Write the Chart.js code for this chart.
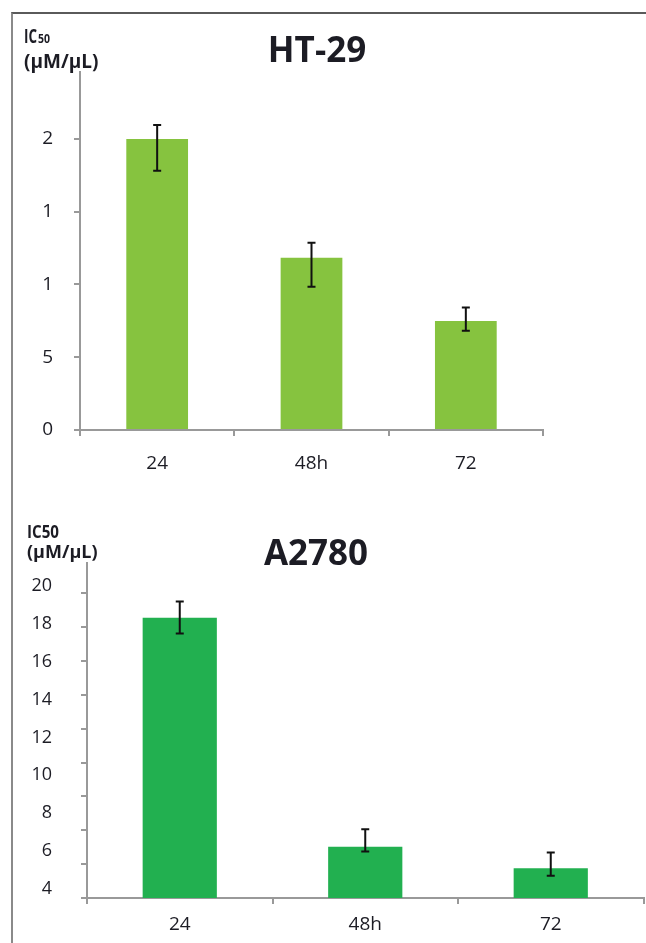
<!DOCTYPE html>
<html>
<head>
<meta charset="utf-8">
<script src="https://cdn.jsdelivr.net/npm/chart.js@4.4.1/dist/chart.umd.min.js"></script>
<style>
body{margin:0;background:#fff;width:646px;height:943px;overflow:hidden;position:relative;}
#frame{position:absolute;left:11px;top:12px;right:0;bottom:-5px;border-top:2px solid #5a5a5a;border-left:2px solid #8a8a8a;pointer-events:none;z-index:2;}
#htChart{position:absolute;left:0;top:0;}
#a2Chart{position:absolute;left:0;top:480px;}
</style>
</head>
<body>
<div id="frame"></div>
<canvas id="htChart" width="646" height="480"></canvas>
<canvas id="a2Chart" width="646" height="463"></canvas>
<script>
// HT-29
const htLabels = ['24', '48h', '72'];
const htValues = [20.0, 11.84, 7.49];
const htErrHigh = [20.96, 12.87, 8.41];
const htErrLow = [17.82, 9.85, 6.82];
const htTickValues = [0, 5, 10, 15, 20];
const htTickLabels = ['0', '5', '1', '1', '2'];

// A2780
const a2Labels = ['24', '48h', '72'];
const a2Values = [18.32, 6.23, 5.09];
const a2ErrHigh = [19.18, 7.15, 5.92];
const a2ErrLow = [17.49, 5.97, 4.69];
const a2TickValues = [4, 6, 8, 10, 12, 14, 16, 18, 20];
const a2TickLabels = ['4', '6', '8', '10', '12', '14', '16', '18', '20'];
const a2MarkValues = [0, 2, 4, 6, 8, 10, 12, 14, 16, 18];

const axisGray = '#999999';
const textCol = '#1c1c24';
const font = 'Open Sans';

/*** error bars ***/
const errorBars = {
  id: 'errorBars',
  afterDatasetsDraw(chart, args, opts) {
    const meta = chart.getDatasetMeta(0);
    const y = chart.scales.y;
    const ctx = chart.ctx;
    ctx.save();
    ctx.strokeStyle = '#111';
    ctx.lineWidth = 2;
    meta.data.forEach((bar, i) => {
      const top = y.getPixelForValue(opts.high[i]);
      const bot = y.getPixelForValue(opts.low[i]);
      ctx.beginPath();
      ctx.moveTo(bar.x, top); ctx.lineTo(bar.x, bot);
      ctx.moveTo(bar.x - 4, top); ctx.lineTo(bar.x + 4, top);
      ctx.moveTo(bar.x - 4, bot); ctx.lineTo(bar.x + 4, bot);
      ctx.stroke();
    });
    ctx.restore();
  }
};

/*** title + y label ***/
const heading = {
  id: 'heading',
  afterDraw(chart, args, o) {
    const ctx = chart.ctx;
    ctx.save();
    ctx.fillStyle = textCol;
    ctx.textBaseline = 'alphabetic';
    ctx.textAlign = 'center';
    ctx.font = 'bold 35px "' + font + '"';
    ctx.fillText(o.title, o.titleX, o.titleY);
    ctx.textAlign = 'left';
    ctx.font = 'bold ' + o.labelSize + 'px "' + font + '"';
    o.lines.forEach(l => {
      if (l.small) {
        ctx.font = 'bold ' + o.labelSize + 'px "' + font + '"';
        ctx.fillText(l.text, l.x, l.y, l.w);
        ctx.font = 'bold 13px "' + font + '"';
        ctx.fillText(l.small, l.x + l.w + 1, l.y, l.sw);
      } else {
        ctx.font = 'bold ' + o.labelSize + 'px "' + font + '"';
        ctx.fillText(l.text, l.x, l.y, l.w);
      }
    });
    ctx.restore();
  }
};

const xAxis = (pad) => ({
  grid: {drawOnChartArea: false, tickLength: 6, color: axisGray, lineWidth: 2},
  border: {color: axisGray, width: 2},
  ticks: {color: textCol, font: {family: font, size: 19}, padding: pad, maxRotation: 0},
  afterFit: s => { s.height = 40; }
});

let htChart = new Chart(document.getElementById('htChart'), {
  type: 'bar',
  data: {
    labels: htLabels,
    datasets: [{
      label: 'HT-29',
      data: htValues,
      backgroundColor: '#86C33F',
      borderWidth: 0,
      categoryPercentage: 1,
      barPercentage: 0.4
    }]
  },
  options: {
    responsive: false,
    animation: false,
    layout: {padding: {left: 0, top: 72, right: 103, bottom: 10}},
    plugins: {
      legend: {display: false},
      tooltip: {enabled: false},
      errorBars: {high: htErrHigh, low: htErrLow},
      heading: {
        title: 'HT-29', titleX: 317, titleY: 62, labelSize: 19,
        lines: [
          {text: 'IC', small: '50', x: 24, y: 43, w: 13, sw: 12},
          {text: '(μM/μL)', x: 24, y: 68, w: 78}
        ]
      }
    },
    scales: {
      x: xAxis(16),
      y: {
        min: 0,
        max: 24.6,
        afterBuildTicks: s => { s.ticks = htTickValues.map(v => ({value: v})); },
        grid: {drawOnChartArea: false, tickLength: 6, color: axisGray, lineWidth: 2},
        border: {color: axisGray, width: 2},
        ticks: {
          color: textCol, font: {family: font, size: 19}, padding: 21,
          callback: (v, i) => htTickLabels[i]
        },
        afterFit: s => { s.width = 80; }
      }
    }
  },
  plugins: [errorBars, heading]
});

let a2Chart = new Chart(document.getElementById('a2Chart'), {
  type: 'bar',
  data: {
    labels: a2Labels,
    datasets: [{
      label: 'A2780',
      data: a2Values,
      backgroundColor: '#22B050',
      borderWidth: 0,
      categoryPercentage: 1,
      barPercentage: 0.4
    }]
  },
  options: {
    responsive: false,
    animation: false,
    layout: {padding: {left: 0, top: 83, right: 2.5, bottom: 5}},
    plugins: {
      legend: {display: false},
      tooltip: {enabled: false},
      errorBars: {high: a2ErrHigh, low: a2ErrLow},
      heading: {
        title: 'A2780', titleX: 316, titleY: 85, labelSize: 18,
        lines: [
          {text: 'IC50', x: 27, y: 58, w: 32},
          {text: '(μM/μL)', x: 27, y: 78, w: 79}
        ]
      }
    },
    scales: {
      x: xAxis(9),
      // tick labels
      y: {
        position: 'left',
        weight: 1,
        min: 3.52,
        max: 21.21,
        afterBuildTicks: s => { s.ticks = a2TickValues.map(v => ({value: v})); },
        grid: {display: false, drawTicks: false},
        border: {display: false},
        ticks: {
          color: textCol, font: {family: font, size: 18}, padding: 29,
          callback: (v, i) => a2TickLabels[i]
        },
        afterFit: s => { s.width = 81; }
      },
      // axis line with its tick marks
      yt: {
        type: 'linear',
        position: 'left',
        weight: 0,
        min: 0,
        max: 19.78,
        afterBuildTicks: s => { s.ticks = a2MarkValues.map(v => ({value: v})); },
        grid: {drawOnChartArea: false, tickLength: 6, color: axisGray, lineWidth: 2},
        border: {color: axisGray, width: 2},
        ticks: {display: false},
        afterFit: s => { s.width = 6; }
      }
    }
  },
  plugins: [errorBars, heading]
});
</script>
</body>
</html>
